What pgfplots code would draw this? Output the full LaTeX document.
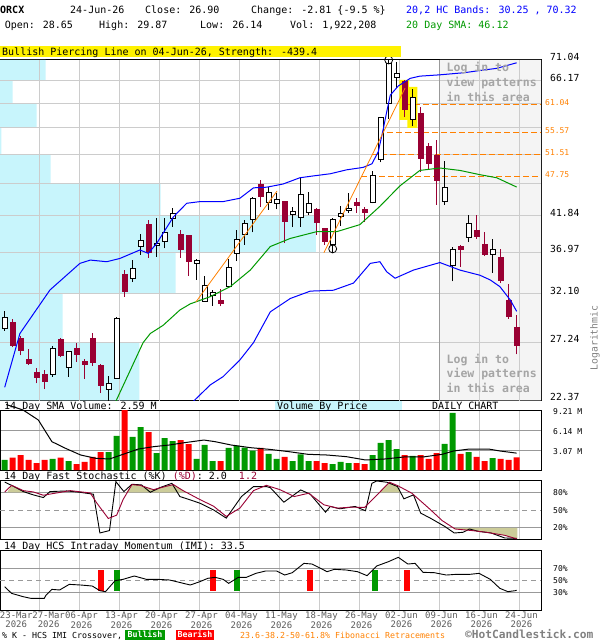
\documentclass[border=0pt]{standalone}
\usepackage{fontspec}
\setmainfont{DejaVu Sans Mono}
\usepackage{pgfplots}
\usepackage{pgfplotstable}
\pgfplotsset{compat=1.18}

\definecolor{candlered}{RGB}{153,0,51}
\definecolor{volgreen}{RGB}{0,153,0}
\definecolor{volred}{RGB}{255,0,0}
\definecolor{fib}{RGB}{255,128,0}
\definecolor{vbp}{RGB}{200,245,252}
\definecolor{gridc}{RGB}{204,204,204}
\definecolor{gridd}{RGB}{153,153,153}
\definecolor{shade}{RGB}{244,244,244}
\definecolor{khaki}{RGB}{204,204,153}
\definecolor{logtxt}{RGB}{165,165,165}
\definecolor{labgray}{RGB}{90,90,90}

\newcommand\fs[1]{\fontsize{#1bp}{#1bp}\selectfont}

% candles: up (hollow) and down (filled)
\pgfplotstableread{
i o h l c
0 28.57 30.32 28.33 29.65
6 24.43 26.93 24.24 26.68
8 25.01 26.45 24.24 26.38
13 23.22 24.30 22.30 23.65
14 24.05 29.65 24.05 29.55
16 33.85 36.03 33.40 35.00
17 37.68 39.34 36.63 38.50
19 37.80 41.50 36.42 38.15
20 38.32 41.50 37.47 39.56
21 41.45 42.90 40.34 42.14
24 35.55 36.09 33.65 35.90
25 31.33 34.11 31.26 32.97
26 31.90 32.53 30.84 32.20
28 32.89 36.09 32.82 35.12
29 36.83 39.87 35.87 38.63
30 39.31 41.25 37.90 40.78
31 41.25 44.64 39.56 44.39
33 43.75 46.20 42.67 45.31
34 43.55 45.15 42.77 44.24
36 42.05 43.09 40.25 42.40
37 41.63 47.80 40.34 45.04
38 42.34 45.42 41.90 43.65
41 37.98 41.48 36.83 41.25
42 41.70 43.30 40.43 42.10
43 42.57 45.27 42.30 42.95
46 43.75 48.70 43.65 47.93
47 50.57 58.50 50.15 58.33
48 61.30 71.00 58.20 70.20
49 67.00 70.40 64.60 67.90
51 57.91 64.30 56.70 62.60
55 43.90 50.40 43.40 46.10
56 35.40 37.70 33.50 37.35
58 38.90 41.90 38.25 40.78
61 36.70 38.63 34.50 37.26
}\upc

\pgfplotstableread{
i o h l c
1 29.15 29.48 26.78 26.93
2 27.61 27.82 26.05 26.47
3 25.65 26.62 25.22 25.31
4 24.60 24.93 23.70 24.15
5 24.38 24.79 23.24 23.83
7 27.54 27.66 25.88 26.05
9 26.68 27.14 25.50 26.13
10 25.48 25.74 24.05 25.22
11 27.61 28.08 25.14 25.42
12 25.14 25.31 22.93 23.52
15 34.23 34.81 31.81 32.35
18 40.55 41.25 36.30 36.92
22 39.22 39.87 36.30 37.26
23 39.09 39.22 34.11 35.87
27 31.44 32.60 30.76 31.03
32 46.59 47.24 43.09 44.64
35 43.99 44.05 38.13 41.00
39 42.81 42.90 39.22 40.86
40 40.09 40.10 37.90 38.41
44 43.75 44.48 42.30 43.30
45 42.67 43.09 41.00 42.28
50 65.90 66.30 58.50 60.10
52 59.25 60.43 48.50 50.79
53 52.90 53.50 49.00 50.00
54 51.30 54.10 43.40 47.10
57 37.70 37.90 35.20 37.35
59 39.74 41.90 38.70 39.00
60 38.00 39.60 36.50 36.75
62 36.38 37.35 33.30 33.57
63 31.37 33.20 29.48 29.70
64 28.65 29.87 26.14 26.90
}\dnc

% volume (millions)
\pgfplotstableread{
i v
0 1.54
6 1.69
8 1.38
13 2.76
14 5.22
16 5.07
17 6.60
19 2.61
20 4.91
21 4.45
24 1.69
25 3.84
26 1.38
28 3.38
29 3.74
30 3.43
31 2.97
33 2.46
34 1.69
36 1.38
37 2.40
38 1.38
41 0.92
42 1.23
43 1.07
46 2.30
47 4.15
48 4.60
49 3.22
51 2.15
55 4.00
56 8.76
58 2.76
61 1.84
}\volup

\pgfplotstableread{
i v
1 1.89
2 2.30
3 1.54
4 1.07
5 1.54
7 1.89
9 0.92
10 1.23
11 2.00
12 2.76
15 9.21
18 5.83
22 4.60
23 3.99
27 1.38
32 3.38
35 2.00
39 1.38
40 1.07
44 1.07
45 0.92
50 2.30
52 2.30
53 1.69
54 2.61
57 2.46
59 2.00
60 1.38
62 1.69
63 1.54
64 1.92
}\voldn

\pgfplotsset{
  panel/.style={
    scale only axis, width=541bp, anchor=north west,
    xmin=-0.5875, xmax=67.04,
    axis line style={black, line width=1bp},
    major tick length=0pt,
    xtick={4.41,9.41,...,64.41}, xticklabels={},
    xmajorgrids, ymajorgrids,
    major x grid style={gridc, line width=1bp},
    yticklabel pos=right,
    yticklabel style={anchor=west, inner sep=0pt},
    /pgf/number format/assume math mode=true,
  },
}

\begin{document}
\begin{tikzpicture}
\useasboundingbox (0,0) rectangle (600bp,-640bp);

% ---------- price panel ----------
\begin{axis}[panel, at={(0bp,-59.8bp)}, height=340.5bp,
  xmajorgrids=false, ymajorgrids=false,
  ymode=log, ymin=22.37, ymax=71.04,
  ytick={22.37,27.24,32.10,36.97,41.84,46.71,51.58,56.44,61.31,66.17,71.04},
  yticklabels={22.37,27.24,32.10,36.97,41.84,,,,,66.17,71.04},
  yticklabel style={xshift=9bp, yshift=3bp, font=\fs{9.7}},
  extra y ticks={47.75,51.51,55.57,61.04},
  extra y tick labels={47.75,51.51,55.57,61.04},
  extra y tick style={yticklabel style={text=fib, font=\fs{8}, xshift=-5bp, yshift=-1.2bp}},
]
% login shading and volume by price
\addplot[fill=shade, draw=none] coordinates {(54.41,22.37) (67.04,22.37) (67.04,71.04) (54.41,71.04) (54.41,22.37)};
\addplot[fill=vbp, draw=none] coordinates {(-0.6,66.17) (5.12,66.17) (5.12,71.04) (-0.6,71.04) (-0.6,66.17)};
\addplot[fill=vbp, draw=none] coordinates {(-0.6,61.31) (1.0,61.31) (1.0,66.17) (-0.6,66.17) (-0.6,61.31)};
\addplot[fill=vbp, draw=none] coordinates {(-0.6,56.44) (4.0,56.44) (4.0,61.31) (-0.6,61.31) (-0.6,56.44)};
\addplot[fill=vbp, draw=none] coordinates {(-0.6,51.58) (-0.4,51.58) (-0.4,56.44) (-0.6,56.44) (-0.6,51.58)};
\addplot[fill=vbp, draw=none] coordinates {(-0.6,46.71) (5.75,46.71) (5.75,51.58) (-0.6,51.58) (-0.6,46.71)};
\addplot[fill=vbp, draw=none] coordinates {(-0.6,41.84) (19.5,41.84) (19.5,46.71) (-0.6,46.71) (-0.6,41.84)};
\addplot[fill=vbp, draw=none] coordinates {(-0.6,36.97) (38.9,36.97) (38.9,41.84) (-0.6,41.84) (-0.6,36.97)};
\addplot[fill=vbp, draw=none] coordinates {(-0.6,32.10) (21.37,32.10) (21.37,36.97) (-0.6,36.97) (-0.6,32.10)};
\addplot[fill=vbp, draw=none] coordinates {(-0.6,27.24) (7.25,27.24) (7.25,32.10) (-0.6,32.10) (-0.6,27.24)};
\addplot[fill=vbp, draw=none] coordinates {(-0.6,22.37) (16.82,22.37) (16.82,27.24) (-0.6,27.24) (-0.6,22.37)};
% grid
\pgfplotsinvokeforeach{27.24,32.10,36.97,41.84,46.71,51.58,56.44,61.31,66.17}{
  \addplot[gridc, line width=1bp] coordinates {(-0.6,#1) (67.1,#1)};
}
\pgfplotsinvokeforeach{4.41,9.41,14.41,19.41,24.41,29.41,34.41,39.41,44.41,49.41,59.41,64.41}{
  \addplot[gridc, line width=1bp] coordinates {(#1,22.3) (#1,71.1)};
}
\addplot[gridd, line width=1bp] coordinates {(54.41,22.3) (54.41,71.1)};
% pattern highlight
\addplot[fill=yellow, draw=none] coordinates {(49.33,66.34) (50.54,66.34) (50.54,57.91) (49.33,57.91) (49.33,66.34)};
\addplot[fill=yellow, draw=none] coordinates {(50.33,64.8) (51.58,64.8) (51.58,56.4) (50.33,56.4) (50.33,64.8)};
% fibonacci retracements
\addplot[fib, line width=1.2bp, dash pattern=on 6bp off 3bp] coordinates {(50.0,61.04) (67.04,61.04)};
\addplot[fib, line width=1.2bp, dash pattern=on 6bp off 3bp] coordinates {(47.8,55.57) (67.04,55.57)};
\addplot[fib, line width=1.2bp, dash pattern=on 6bp off 3bp] coordinates {(45.9,51.51) (67.04,51.51)};
\addplot[fib, line width=1.2bp, dash pattern=on 6bp off 3bp] coordinates {(44.6,47.75) (67.04,47.75)};

% candles
\pgfplotsinvokeforeach{0,...,33}{
  \pgfplotstablegetelem{#1}{i}\of\upc \let\ci\pgfplotsretval
  \pgfplotstablegetelem{#1}{o}\of\upc \let\co\pgfplotsretval
  \pgfplotstablegetelem{#1}{h}\of\upc \let\ch\pgfplotsretval
  \pgfplotstablegetelem{#1}{l}\of\upc \let\cl\pgfplotsretval
  \pgfplotstablegetelem{#1}{c}\of\upc \let\cc\pgfplotsretval
  \pgfmathsetmacro\xa{\ci-0.3125}\pgfmathsetmacro\xb{\ci+0.3125}
  \addplot[black, line width=1bp] coordinates {(\ci,\cl) (\ci,\ch)};
  \addplot[black, fill=white, line width=1bp] coordinates {(\xa,\co) (\xb,\co) (\xb,\cc) (\xa,\cc) (\xa,\co)};
}
\pgfplotsinvokeforeach{0,...,30}{
  \pgfplotstablegetelem{#1}{i}\of\dnc \let\ci\pgfplotsretval
  \pgfplotstablegetelem{#1}{o}\of\dnc \let\co\pgfplotsretval
  \pgfplotstablegetelem{#1}{h}\of\dnc \let\ch\pgfplotsretval
  \pgfplotstablegetelem{#1}{l}\of\dnc \let\cl\pgfplotsretval
  \pgfplotstablegetelem{#1}{c}\of\dnc \let\cc\pgfplotsretval
  \pgfmathsetmacro\xa{\ci-0.3125}\pgfmathsetmacro\xb{\ci+0.3125}
  \addplot[candlered, line width=1bp] coordinates {(\ci,\cl) (\ci,\ch)};
  \addplot[candlered, fill=candlered, line width=1bp] coordinates {(\xa,\co) (\xb,\co) (\xb,\cc) (\xa,\cc) (\xa,\co)};
}

% bands and average
\addplot[blue, line width=1bp] coordinates {(0,23.38) (1.9,28.06) (5.66,32.53) (9.4,35.6) (10.7,36.0) (12.75,35.8) (14.4,36.2) (16.9,37.26) (17.95,36.83) (19,38.1) (21.1,41.7) (22.75,43.65) (24.4,43.9) (27.3,43.9) (29.4,44.4) (31.1,46.0) (32.75,46.1) (34.8,46.6) (36.9,47.6) (38.6,47.9) (40.7,48.25) (42.75,48.9) (44.8,49.3) (45.9,49.9) (46.7,52.0) (47.3,56.0) (47.75,59.5) (48.2,63.0) (49.2,65.0) (50.7,66.7) (51.9,67.2) (54.4,67.5) (57.5,68.0) (59.4,68.5) (61.5,69.0) (64,70.32)};
\addplot[blue, line width=1bp] coordinates {(23.6,22.3) (25.7,23.57) (27.3,24.24) (29.4,25.65) (31.1,27.2) (33.2,30.2) (35.7,31.6) (38.2,32.4) (41.1,32.5) (43.6,33.3) (45.7,35.6) (46.9,35.8) (47.75,34.6) (48.8,33.85) (51.1,34.8) (54.4,35.7) (56.9,34.8) (59.4,34.2) (60.7,33.65) (61.9,32.9) (63.2,31.44) (64,30.25)};
\addplot[volgreen, line width=1bp] coordinates {(13.9,22.3) (17.3,27.2) (18.2,28.06) (19.8,28.85) (21.9,30.39) (23.2,31.03) (25.7,31.8) (28.2,32.9) (30.7,34.8) (33.2,37.7) (35.7,38.75) (39,39.65) (41.5,39.65) (44.4,40.6) (46.9,43.2) (49.4,46.3) (51.9,48.8) (54.4,49.2) (56.9,48.8) (59.4,48.1) (61.5,47.6) (64,46.12)};
% trend lines
\addplot[fib, line width=0.8bp] coordinates {(23.9,31.23) (34.04,45.5)};
\addplot[fib, line width=0.8bp] coordinates {(39.9,36.9) (50.04,64.5)};
% pattern circles
\addplot[only marks, mark=o, mark size=4bp, black, mark options={line width=0.8bp}] coordinates {(48,71.0) (41,37.4)};
\end{axis}

% ---------- volume panel ----------
\begin{axis}[panel, at={(0bp,-410bp)}, height=60bp, ymin=0, ymax=9.21, clip=false,
  ytick={3.07,6.14,9.21}, yticklabels={3.07 M,6.14 M,9.21 M},
  major y grid style={gridd, line width=1bp},
  yticklabel style={xshift=12bp, yshift=-2bp, font=\fs{8}}]
\addplot[ybar, bar width=6bp, bar shift=0pt, fill=volgreen, draw=none] table[x=i, y=v] {\volup};
\addplot[ybar, bar width=6bp, bar shift=0pt, fill=volred, draw=none] table[x=i, y=v] {\voldn};
\addplot[black, line width=1bp] coordinates {(0.2,10.05) (2.3,9.21) (4.2,7.68) (5.9,4.35) (7.6,3.33) (9.5,2.30) (11.4,1.79) (13.1,1.69) (14.8,2.41) (16.7,3.22) (18.6,3.58) (20.6,3.84) (22.5,4.2) (24.9,4.6) (26.3,4.35) (28.3,3.84) (30.7,3.43) (33.1,3.17) (35.5,2.82) (37.9,2.41) (40.3,2.30) (42.7,2.05) (45.1,1.54) (47.5,1.69) (49.9,2.0) (52.3,2.0) (54.7,2.41) (56.1,2.92) (58.1,3.22) (60.5,3.22) (61.9,2.92) (64,2.59)};
\end{axis}

% ---------- stochastic panel ----------
\begin{axis}[panel, at={(0bp,-480.6bp)}, height=59bp, ymin=0, ymax=100,
  ytick={20,80}, yticklabels={20\%,80\%},
  extra y ticks={50}, extra y tick labels={50\%}, extra y tick style={grid=none},
  major y grid style={gridd, line width=1bp},
  yticklabel style={xshift=12bp, font=\fs{8}}]
\addplot[fill=khaki, draw=none] coordinates {(0.3,80) (0.87,92) (2.33,83) (2.95,80) (0.3,80)};
\addplot[fill=khaki, draw=none] coordinates {(15.2,80) (15.9,93.2) (16.9,92) (18.6,84.7) (20.2,90.4) (21.1,93.2) (22.3,83) (22.6,80) (15.2,80)};
\addplot[fill=khaki, draw=none] coordinates {(46.85,80) (48.1,97.2) (49.1,90) (49.5,80) (46.85,80)};
\addplot[fill=khaki, draw=none] coordinates {(56.0,20) (56.3,18) (58.5,15.2) (60.2,12.4) (62.5,7.3) (64.1,1.2) (64.1,20) (56.0,20)};
\addplot[gridd, line width=1bp, dash pattern=on 5bp off 4bp] coordinates {(-0.5875,50) (67.04,50)};
\addplot[black, line width=0.9bp] coordinates {(0,97.6) (1.08,90.4) (2.33,81.4) (3.58,75.8) (4.83,71.3) (5.66,81.4) (7.75,82.5) (9.4,80.2) (11.1,76.9) (11.9,11.3) (13.1,15.3) (13.9,98.3) (14.9,81.4) (15.9,93.8) (17.1,92.7) (18.2,80.2) (19.4,88.1) (20.9,95.4) (21.9,73) (23.2,67.3) (24.4,61.7) (26.1,50.4) (27.7,36.4) (29.6,73) (31.1,89.9) (32.7,89.9) (33.2,88.1) (34.9,63.4) (37.0,84.2) (38.2,76.9) (40.1,46.6) (40.7,56.2) (41.9,52.2) (43.8,56.2) (45.1,48.9) (45.9,95.4) (46.5,99.4) (47.8,97.2) (49.1,89.9) (49.9,69.1) (51.1,75.8) (52.0,44.9) (53.2,36.4) (55.0,22.4) (56.2,11.2) (57.3,12.4) (58.1,18) (59.2,14) (60.8,11.2) (62.5,2.8) (64,2.0)};
\addplot[candlered, line width=0.9bp] coordinates {(0,80.8) (0.87,92) (2.33,83) (3.58,80.8) (4.83,75.2) (6.5,79.1) (8.2,83) (9.6,80.8) (10.7,79.1) (11.5,62.2) (12.95,35.8) (14,41.5) (14.8,67.9) (15.9,93.2) (16.9,92) (18.6,84.7) (20.2,90.4) (21.1,93.2) (22.3,83) (24.4,67.9) (26.1,56.7) (27.7,39.3) (29.4,53.4) (31.1,83) (32.7,92) (34.4,84.7) (36.2,73) (38.0,78.6) (39.9,59) (41.6,53.4) (43.3,55) (45,54.5) (48.1,97.2) (49.1,91.6) (50.9,78.6) (53.0,53.4) (54.7,32.1) (56.3,18) (58.5,15.2) (60.2,12.4) (62.5,7.3) (64,1.2)};
\end{axis}

% ---------- IMI panel ----------
\begin{axis}[panel, at={(0bp,-550.5bp)}, height=59.8bp, ymin=0, ymax=100,
  ytick={30,70}, yticklabels={30\%,70\%},
  extra y ticks={50}, extra y tick labels={50\%},
  major y grid style={gridd, line width=1bp},
  yticklabel style={xshift=12bp, font=\fs{8}},
  xticklabels={,06-Apr\\2026,13-Apr\\2026,20-Apr\\2026,27-Apr\\2026,04-May\\2026,11-May\\2026,18-May\\2026,26-May\\2026,02-Jun\\2026,09-Jun\\2026,16-Jun\\2026,24-Jun\\2026},
  extra x ticks={1.25,5.3}, extra x tick labels={23-Mar\\2026,27-Mar\\2026},
  extra x tick style={grid=none},
  xticklabel style={align=center, font=\fontsize{9bp}{8.5bp}\selectfont, text=labgray, inner sep=0pt, anchor=north, yshift=-1.5bp, xshift=1.5bp},
  extra y tick style={grid=none}]
\addplot[gridd, line width=1bp, dash pattern=on 5bp off 4bp] coordinates {(-0.5875,50) (67.04,50)};
\addplot[volred, line width=6bp] coordinates {(12,32.3) (12,67.4)};
\addplot[volgreen, line width=6bp] coordinates {(14,32.3) (14,67.4)};
\addplot[volred, line width=6bp] coordinates {(26,32.3) (26,67.4)};
\addplot[volgreen, line width=6bp] coordinates {(29,32.3) (29,67.4)};
\addplot[volred, line width=6bp] coordinates {(38.2,32.3) (38.2,67.4)};
\addplot[volgreen, line width=6bp] coordinates {(46.3,32.3) (46.3,67.4)};
\addplot[volred, line width=6bp] coordinates {(50.3,32.3) (50.3,67.4)};
\addplot[black, line width=0.9bp] coordinates {(0,39.5) (0.85,28.4) (2.3,22.8) (3.26,20) (4.94,20) (5.18,25.6) (5.9,35) (6.87,34) (8.07,43.4) (9.5,42.3) (10.95,40.6) (11.9,32.8) (12.6,31.2) (13.8,49.6) (14.8,51.8) (16.2,57.4) (17.7,51.8) (19.1,51.8) (20.6,50.7) (22.0,46.2) (23.2,42.3) (24.4,47.9) (25.4,53.5) (26.3,55.1) (27.3,51.8) (28.0,45.1) (29.2,55.1) (30.2,55.1) (31.4,61.8) (32.6,65.7) (34.0,65.7) (35.0,59) (35.95,62.9) (37.4,78.5) (38.4,77.4) (40.3,64.6) (41.2,68.5) (42.7,67.4) (44.1,64.6) (45.3,57.9) (46.5,74.1) (47.97,81.3) (49.2,88.6) (50.4,77.4) (51.3,78.5) (52.3,63.5) (53.7,62.9) (55.2,59) (56.4,60.1) (58.1,60.1) (59.3,61.8) (60.7,51.8) (61.9,36.7) (62.9,31.2) (63.8,32.8) (64,33.5)};
\end{axis}

% ---------- header ----------
\begin{scope}[every node/.style={inner sep=0pt, anchor=base west, font=\fs{10}}]
\node[font=\fs{10}\bfseries] at (0bp,-13.3bp) {ORCX};
\node at (70bp,-13.3bp) {24-Jun-26};
\node at (145bp,-13.3bp) {Close: 26.90};
\node at (251bp,-13.3bp) {Change: -2.81 \{-9.5 \%\}};
\node[text=blue] at (406bp,-13.3bp) {20,2 HC Bands: 30.25 , 70.32};
\node at (4.6bp,-28.3bp) {Open: 28.65};
\node at (99bp,-28.3bp) {High: 29.87};
\node at (200bp,-28.3bp) {Low: 26.14};
\node at (290bp,-28.3bp) {Vol: 1,922,208};
\node[text=volgreen] at (406bp,-28.3bp) {20 Day SMA: 46.12};
\fill[yellow] (0bp,-45.7bp) rectangle (401bp,-56.9bp);
\node at (2bp,-55.2bp) {Bullish Piercing Line on 04-Jun-26, Strength: -439.4};
% login notes
\node[text=logtxt, font=\fs{11.5}\bfseries] at (446.5bp,-71bp) {Log in to};
\node[text=logtxt, font=\fs{11.5}\bfseries] at (446.5bp,-86bp) {view patterns};
\node[text=logtxt, font=\fs{11.5}\bfseries] at (446.5bp,-101bp) {in this area};
\node[text=logtxt, font=\fs{11.5}\bfseries] at (446.5bp,-363bp) {Log in to};
\node[text=logtxt, font=\fs{11.5}\bfseries] at (446.5bp,-377.5bp) {view patterns};
\node[text=logtxt, font=\fs{11.5}\bfseries] at (446.5bp,-392.5bp) {in this area};
% panel titles
\fill[vbp] (275bp,-401bp) rectangle (402bp,-410bp);
\node at (4bp,-409.3bp) {14 Day SMA Volume: 2.59 M};
\node at (277bp,-409.3bp) {Volume By Price};
\node at (432bp,-409.3bp) {DAILY CHART};
\node at (4bp,-479.8bp) {14 Day Fast Stochastic (\%K) \textcolor{candlered}{(\%D)}: 2.0 \ \textcolor{candlered}{1.2}};
\node at (4bp,-549.8bp) {14 Day HCS Intraday Momentum (IMI): 33.5};
% footer
\node[font=\fs{8.3}] at (2bp,-638bp) {\% K - HCS IMI Crossover,};
\fill[volgreen] (125bp,-630bp) rectangle (165bp,-639.5bp);
\fill[volred] (176bp,-630bp) rectangle (214bp,-639.5bp);
\node[font=\fs{8.3}\bfseries, text=white, anchor=base] at (145bp,-637.6bp) {Bullish};
\node[font=\fs{8.3}\bfseries, text=white, anchor=base] at (195bp,-637.6bp) {Bearish};
\node[font=\fs{8.3}, text=fib] at (240bp,-638bp) {23.6-38.2-50-61.8\% Fibonacci Retracements};
\node[font=\fs{11.2}\bfseries, text=gray] at (465bp,-638.5bp) {©HotCandlestick.com};
\end{scope}
\node[rotate=90, font=\fs{9.8}, text=gray, inner sep=0pt] at (595bp,-338bp) {Logarithmic};
\end{tikzpicture}
\end{document}
